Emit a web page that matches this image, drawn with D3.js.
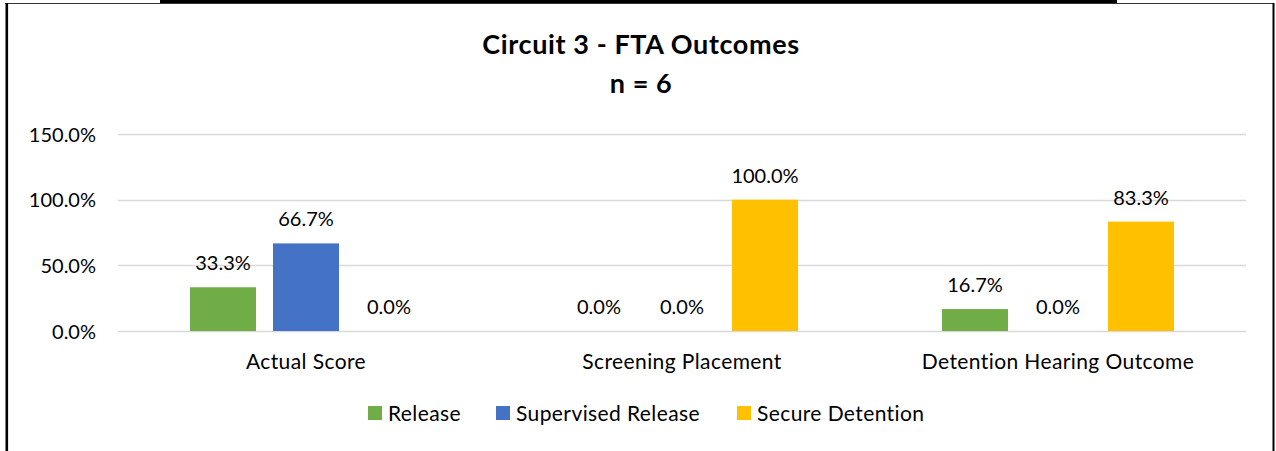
<!DOCTYPE html>
<html>
<head>
<meta charset="utf-8">
<script src="https://cdn.jsdelivr.net/npm/d3@7"></script>
<style>
  html, body { margin: 0; padding: 0; background: #fff; }
  svg { display: block; }
  text { font-family: Lato, "Liberation Sans", sans-serif; fill: #000; }
</style>
</head>
<body>
<svg id="chart" width="1276" height="451"></svg>
<script>
const categories = ["Actual Score", "Screening Placement", "Detention Hearing Outcome"];
const seriesNames = ["Release", "Supervised Release", "Secure Detention"];
const releaseValues = [33.3, 0.0, 16.7];
const supervisedValues = [66.7, 0.0, 0.0];
const secureValues = [0.0, 100.0, 83.3];
const yTicks = [0, 50, 100, 150];
const titleLines = ["Circuit 3 - FTA Outcomes", "n = 6"];
const colors = ["#70AD47", "#4472C4", "#FFC000"];

const seriesValues = [releaseValues, supervisedValues, secureValues];

const svg = d3.select("#chart");
const W = 1276, H = 451;

// frame
svg.append("rect").attr("x", 160).attr("y", 0).attr("width", 957).attr("height", 3).attr("fill", "#000");
svg.append("line").attr("x1", 5).attr("x2", 1274).attr("y1", 3.5).attr("y2", 3.5).attr("stroke", "#333").attr("stroke-width", 1);
svg.append("line").attr("x1", 6.8).attr("x2", 6.8).attr("y1", 3).attr("y2", H).attr("stroke", "#000").attr("stroke-width", 2.6);
svg.append("line").attr("x1", 1273.5).attr("x2", 1273.5).attr("y1", 3).attr("y2", H).attr("stroke", "#000").attr("stroke-width", 2);

const plot = { left: 118, right: 1246, top: 134, bottom: 331 };

const y = d3.scaleLinear().domain([0, 150]).range([plot.bottom, plot.top]);
const x0 = d3.scaleBand().domain(categories).range([plot.left, plot.right]).padding(0);
const x1 = d3.scaleBand().domain(seriesNames).range([0, 232]).paddingInner(17 / 83).paddingOuter(0);

// gridlines
svg.append("g").selectAll("line").data(yTicks).join("line")
  .attr("x1", plot.left).attr("x2", plot.right)
  .attr("y1", d => Math.round(y(d)) + 0.5).attr("y2", d => Math.round(y(d)) + 0.5)
  .attr("stroke", "#D9D9D9").attr("stroke-width", 1.5);

// y axis labels
const yAxis = d3.axisLeft(y).tickValues(yTicks).tickSize(0).tickPadding(0)
  .tickFormat(d => d3.format(".1f")(d) + "%");
const yg = svg.append("g").attr("transform", `translate(96,0)`).call(yAxis);
yg.select(".domain").remove();
yg.selectAll("text").attr("font-size", 20).attr("font-family", "Lato, sans-serif").attr("fill", "#000").attr("dy", "0.35em");

// bars
const groups = svg.append("g").selectAll("g").data(categories).join("g")
  .attr("transform", c => `translate(${x0(c) + x0.bandwidth() / 2 - 116},0)`);

groups.each(function (c, ci) {
  const g = d3.select(this);
  const data = seriesNames.map((s, si) => ({ s, si, v: seriesValues[si][ci] }));
  g.selectAll("rect").data(data).join("rect")
    .attr("x", d => x1(d.s)).attr("width", x1.bandwidth())
    .attr("y", d => y(d.v)).attr("height", d => y(0) - y(d.v))
    .attr("fill", d => colors[d.si]);
  g.selectAll("text").data(data).join("text")
    .attr("x", d => x1(d.s) + x1.bandwidth() / 2)
    .attr("y", d => y(d.v) - 17)
    .attr("text-anchor", "middle").attr("font-size", 20)
    .text(d => d3.format(".1f")(d.v) + "%");
});

// x axis labels
const xAxis = d3.axisBottom(x0).tickSize(0).tickPadding(0);
const xg = svg.append("g").attr("transform", `translate(0,${plot.bottom})`).call(xAxis);
xg.select(".domain").remove();
xg.selectAll("text").attr("font-size", 21).attr("letter-spacing", "0.4px")
  .attr("font-family", "Lato, sans-serif").attr("fill", "#000").attr("dy", null).attr("y", 38);

// title
svg.append("g").selectAll("text").data(titleLines).join("text")
  .attr("x", 641).attr("y", (d, i) => 54 + i * 39)
  .attr("text-anchor", "middle").attr("font-size", 27).attr("font-weight", "bold")
  .attr("letter-spacing", "0.6px")
  .text(d => d);

// legend
const legendX = [368, 496, 737];
const lg = svg.append("g").selectAll("g").data(seriesNames).join("g")
  .attr("transform", (d, i) => `translate(${legendX[i]},406)`);
lg.append("rect").attr("width", 14).attr("height", 14).attr("fill", (d, i) => colors[i]);
lg.append("text").attr("x", 20).attr("y", 14.5).attr("font-size", 21).attr("letter-spacing", "0.4px").text(d => d);
</script>
</body>
</html>
